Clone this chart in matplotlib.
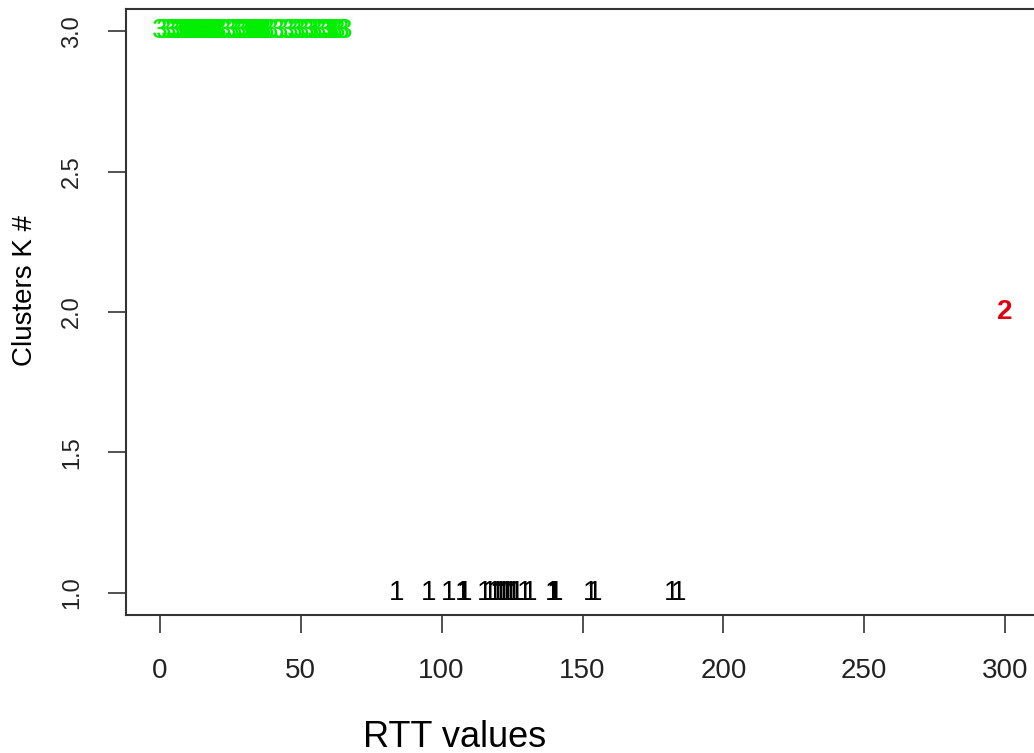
import matplotlib
matplotlib.use("Agg")
import matplotlib.pyplot as plt

plt.rcParams['font.family'] = ['Liberation Sans', 'DejaVu Sans']

# RTT values per cluster
rtt_k1 = [84, 95.3, 102.4, 107.3, 108, 115.4, 117.1, 118.9, 120, 121, 122,
          123, 123.5, 124.5, 125.5, 126.5, 129.6, 131.3, 139.5, 140, 140.5,
          152.8, 154.3, 181.6, 184]
rtt_k2 = [300]
rtt_k3 = [0, 1.5, 3, 4.5, 5.5, 6.5, 7, 7.5, 8, 8.5, 9, 9.5, 10, 10.5, 11,
          11.5, 12, 12.5, 13, 13.5, 14, 14.5, 15, 15.5, 16, 16.5, 17, 17.5,
          18, 18.5, 19, 19.5, 20, 21, 22.5, 24.5, 25.5, 26.5, 28, 29, 29.5,
          30, 30.5, 31, 31.5, 32, 32.5, 33, 33.5, 34, 34.5, 35, 35.5, 36,
          36.5, 37, 38, 39.5, 41.5, 43, 45, 46.5, 48, 49, 50.5, 52, 53, 53.5,
          54, 55, 56.5, 58, 59, 59.5, 60, 60.5, 61, 62, 63, 64.5, 65.5]

clusters = [1, 2, 3]
colors = {1: 'black', 2: '#e00010', 3: '#00ee00'}
x_ticks = [0, 50, 100, 150, 200, 250, 300]
y_ticks = [1.0, 1.5, 2.0, 2.5, 3.0]

fig = plt.figure(figsize=(10.34, 7.53), dpi=100)
ax = fig.add_axes([126 / 1034, 138 / 753, 913 / 1034, 606 / 753])

# each RTT value drawn as its cluster number, like R's text()
for k, vals in zip(clusters, [rtt_k1, rtt_k2, rtt_k3]):
    for v in vals:
        ax.text(v, k, str(k), color=colors[k], fontsize=20,
                fontweight='bold' if k == 2 else 'normal',
                ha='center', va='center')

ax.set_xlim(-12, 312)
ax.set_ylim(0.92, 3.08)
ax.set_xticks(x_ticks)
ax.set_yticks(y_ticks)
ax.set_xticklabels([str(t) for t in x_ticks], fontsize=20)
ax.set_yticklabels(['%.1f' % t for t in y_ticks], fontsize=17,
                   rotation=90, va='center')
ax.tick_params(direction='out', length=13, width=1.1, pad=18, colors='#222222')
for s in ax.spines.values():
    s.set_linewidth(1.5)
    s.set_color('#333333')

fig.text(455 / 1034, 6 / 753, 'RTT values', fontsize=26,
         ha='center', va='baseline')
fig.text(25 / 1034, (753 - 290) / 753, 'Clusters K #', fontsize=20,
         rotation=90, ha='center', va='center')

fig.savefig('out.png', dpi=100)
